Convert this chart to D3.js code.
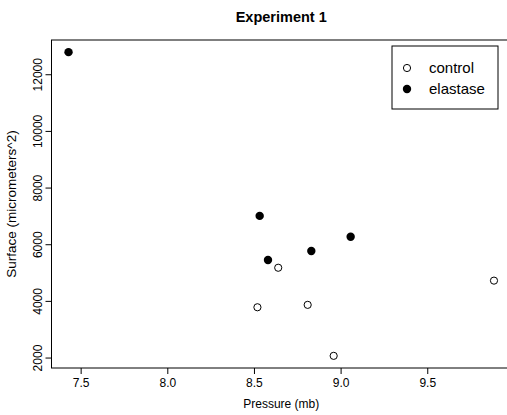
<!DOCTYPE html>
<html>
<head>
<meta charset="utf-8">
<script src="https://cdn.jsdelivr.net/npm/d3@7"></script>
<style>
  body { margin: 0; background: #fff; }
  svg { display: block; font-family: "Liberation Sans", Arial, sans-serif; }
</style>
</head>
<body>
<svg id="chart"></svg>
<script>
// values
var controlPressure = [8.64, 8.52, 8.81, 8.96, 9.885]
var controlSurface = [5170, 3775, 3860, 2060, 4715]
var elastasePressure = [7.43, 8.533, 9.058, 8.831, 8.581]
var elastaseSurface = [12780, 7000, 6265, 5760, 5445]
var xTicks = [7.5, 8.0, 8.5, 9.0, 9.5]
var yTicks = [2000, 4000, 6000, 8000, 10000, 12000]
var legendLabels = ["control", "elastase"]

var dimensions = {
  width: 507,
  height: 415,
  margin: { top: 40, bottom: 47, right: -4, left: 51.5 }
}

var control = controlPressure.map((p, i) => ({ Pressure: p, Surface: controlSurface[i], filled: false }))
var elastase = elastasePressure.map((p, i) => ({ Pressure: p, Surface: elastaseSurface[i], filled: true }))
var dataset = control.concat(elastase)

var xAccessor = d => d.Pressure
var yAccessor = d => d.Surface

// R style: 4% padding around the data range
function pad(ext) {
  var s = (ext[1] - ext[0]) * 0.04
  return [ext[0] - s, ext[1] + s]
}

var svg = d3.select("#chart")
  .attr("width", dimensions.width)
  .attr("height", dimensions.height)

var plotLeft = dimensions.margin.left
var plotRight = dimensions.width - dimensions.margin.right
var plotTop = dimensions.margin.top
var plotBottom = dimensions.height - dimensions.margin.bottom

var xScale = d3.scaleLinear()
  .domain(pad(d3.extent(dataset, xAccessor)))
  .range([plotLeft, plotRight])

var yScale = d3.scaleLinear()
  .domain(pad(d3.extent(dataset, yAccessor)))
  .range([plotBottom, plotTop])

// box around plot
svg.append("rect")
  .attr("x", plotLeft)
  .attr("y", plotTop)
  .attr("width", plotRight - plotLeft)
  .attr("height", plotBottom - plotTop)
  .attr("fill", "none")
  .attr("stroke", "#000")
  .attr("stroke-width", 1)

var xAxisGen = d3.axisBottom(xScale).tickValues(xTicks).tickFormat(d3.format(".1f")).tickSize(6).tickSizeOuter(0)
var xAxis = svg.append("g")
  .attr("transform", `translate(0,${plotBottom})`)
  .call(xAxisGen)
xAxis.select(".domain").remove()
xAxis.selectAll("text")
  .attr("y", 10)
  .style("font-size", "12px")
  .style("font-family", "Liberation Sans, Arial, sans-serif")
  .attr("fill", "#000")

var yAxisGen = d3.axisLeft(yScale).tickValues(yTicks).tickFormat(d3.format("d")).tickSize(6).tickSizeOuter(0)
var yAxis = svg.append("g")
  .attr("transform", `translate(${plotLeft},0)`)
  .call(yAxisGen)
yAxis.select(".domain").remove()
yAxis.selectAll("text")
  .attr("x", 0)
  .attr("y", 0)
  .attr("dy", 0)
  .attr("transform", "translate(-10,0) rotate(-90)")
  .attr("text-anchor", "middle")
  .style("font-size", "12px")
  .style("font-family", "Liberation Sans, Arial, sans-serif")
  .attr("fill", "#000")

// points
svg.append("g")
  .selectAll("circle")
  .data(dataset)
  .enter().append("circle")
  .attr("cx", d => xScale(xAccessor(d)))
  .attr("cy", d => yScale(yAccessor(d)))
  .attr("r", d => d.filled ? 4.2 : 3.6)
  .attr("fill", d => d.filled ? "#000" : "none")
  .attr("stroke", "#000")
  .attr("stroke-width", d => d.filled ? 0 : 1)

// title + axis labels
var cx = (plotLeft + plotRight) / 2
svg.append("text")
  .attr("x", cx)
  .attr("y", 22)
  .attr("text-anchor", "middle")
  .style("font-size", "14.5px")
  .style("font-weight", "bold")
  .text("Experiment 1")

svg.append("text")
  .attr("x", cx)
  .attr("y", 408)
  .attr("text-anchor", "middle")
  .style("font-size", "12px")
  .text("Pressure (mb)")

svg.append("text")
  .attr("transform", `translate(16,${(plotTop + plotBottom) / 2}) rotate(-90)`)
  .attr("text-anchor", "middle")
  .style("font-size", "13.5px")
  .text("Surface (micrometers^2)")

// legend
var legend = svg.append("g")
legend.append("rect")
  .attr("x", 392)
  .attr("y", 46)
  .attr("width", 106)
  .attr("height", 63)
  .attr("fill", "#fff")
  .attr("stroke", "#000")

legendLabels.forEach(function (name, i) {
  var y = 68 + i * 21
  legend.append("circle")
    .attr("cx", 407)
    .attr("cy", y)
    .attr("r", i == 1 ? 4.2 : 3.6)
    .attr("fill", i == 1 ? "#000" : "none")
    .attr("stroke", "#000")
    .attr("stroke-width", i == 1 ? 0 : 1)
  legend.append("text")
    .attr("x", 429)
    .attr("y", y)
    .attr("dy", "0.35em")
    .style("font-size", "15px")
    .text(name)
})
</script>
</body>
</html>
